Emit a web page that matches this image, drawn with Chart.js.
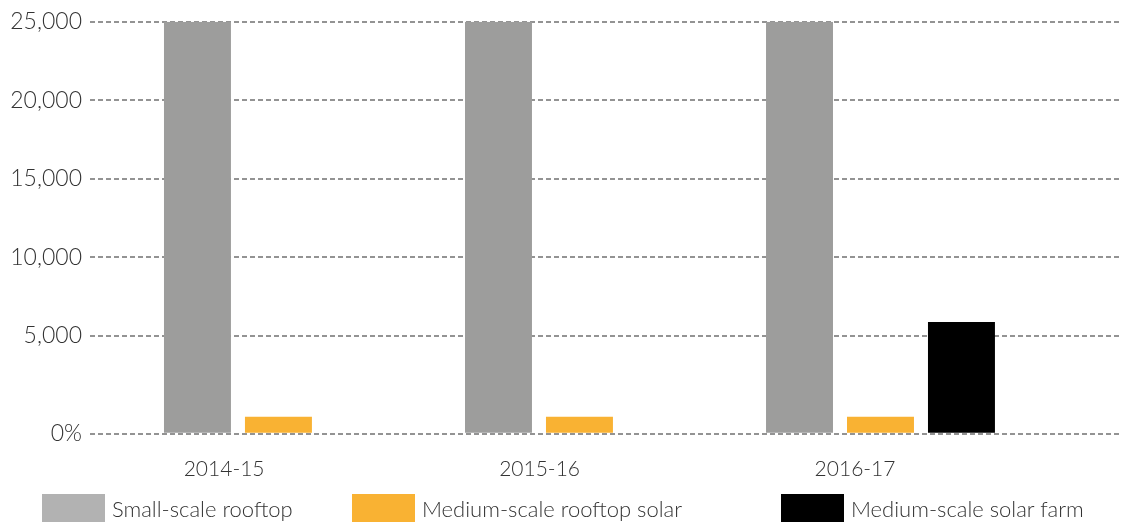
<!DOCTYPE html>
<html>
<head>
<meta charset="utf-8">
<script src="https://cdn.jsdelivr.net/npm/chart.js@4/dist/chart.umd.min.js"></script>
<style>
  html, body { margin: 0; padding: 0; background: #fff; }
  #wrap { position: relative; width: 1121px; height: 527px; }
  #chartBox { width: 1121px; height: 497px; }
  #legend {
    position: absolute; left: 42px; top: 494px;
    display: flex; align-items: center;
    font-family: Lato, "Open Sans", sans-serif; font-weight: 300;
    font-size: 22px; color: #333;
  }
  .item { display: flex; align-items: center; }
  .item:nth-child(1) { width: 310px; }
  .item:nth-child(2) { width: 429px; }
  .swatch { width: 63px; height: 28px; margin-right: 7px; }
</style>
</head>
<body>
<div id="wrap">
  <div id="chartBox"><canvas id="solarChart"></canvas></div>
  <div id="legend"></div>
</div>
<script>
const categories = ["2014-15", "2015-16", "2016-17"];
const smallRooftop = [25000, 25000, 25000];
const mediumRooftop = [-170, -170, -170];
const mediumFarm = [null, null, 5870];

// y axis: bottom line is labelled "0%" and sits below the 5,000 step
const yTickValues = [-1250, 5000, 10000, 15000, 20000, 25000];
const yTickLabels = ["0%", "5,000", "10,000", "15,000", "20,000", "25,000"];

const seriesNames = ["Small-scale rooftop", "Medium-scale rooftop solar", "Medium-scale solar farm"];
const barColors = ["#9d9d9c", "#f9b233", "#000000"];
const legendColors = ["#b2b2b2", "#f9b233", "#000000"];

const FONT = "Lato, 'Open Sans', sans-serif";
const yMin = yTickValues[0];

function toPoints(values) {
  return values.map((v, i) => ({ x: i, y: v }));
}

function makeDataset(idx, values) {
  return {
    label: seriesNames[idx],
    data: toPoints(values),
    backgroundColor: barColors[idx],
    base: yMin,
    categoryPercentage: 0.807,
    barPercentage: 0.827
  };
}

function buildLegend() {
  const box = document.getElementById("legend");
  seriesNames.forEach((name, i) => {
    const item = document.createElement("div");
    item.className = "item";
    item.innerHTML = `<span class="swatch" style="background:${legendColors[i]}"></span><span>${name}</span>`;
    box.appendChild(item);
  });
}

const ctx = document.getElementById("solarChart").getContext("2d");

new Chart(ctx, {
  type: "bar",
  data: {
    datasets: [
      makeDataset(0, smallRooftop),
      makeDataset(1, mediumRooftop),
      makeDataset(2, mediumFarm)
    ]
  },
  options: {
    responsive: true,
    maintainAspectRatio: false,
    animation: false,
    layout: { padding: { top: 6, right: 0, bottom: 0, left: 0 } },
    plugins: {
      tooltip: { enabled: false },
      legend: { display: false }
    },
    scales: {
      x: {
        type: "linear",
        display: false,
        offset: false,
        min: -0.626,
        max: 2.799,
        afterBuildTicks: scale => {
          scale.ticks = categories.map((c, i) => ({ value: i }));
        }
      },
      xLabels: {
        type: "linear",
        position: "bottom",
        offset: false,
        min: -0.425,
        max: 2.843,
        grid: { display: false },
        border: { display: false },
        afterBuildTicks: scale => {
          scale.ticks = categories.map((c, i) => ({ value: i }));
        },
        ticks: {
          padding: 15,
          maxRotation: 0,
          color: "#333",
          font: { family: FONT, size: 21, weight: 300 },
          callback: value => categories[value]
        }
      },
      y: {
        min: yMin,
        max: 25000,
        z: 1,
        afterFit: scale => { scale.width = 90; },
        afterBuildTicks: scale => {
          scale.ticks = yTickValues.map(v => ({ value: v }));
        },
        border: { display: false, dash: [5, 3] },
        grid: {
          color: "#939393",
          lineWidth: 2,
          drawTicks: false
        },
        ticks: {
          padding: 8,
          color: "#333",
          font: { family: FONT, size: 23, weight: 300 },
          callback: (value, index) => yTickLabels[index]
        }
      }
    }
  }
});

buildLegend();
</script>
</body>
</html>
